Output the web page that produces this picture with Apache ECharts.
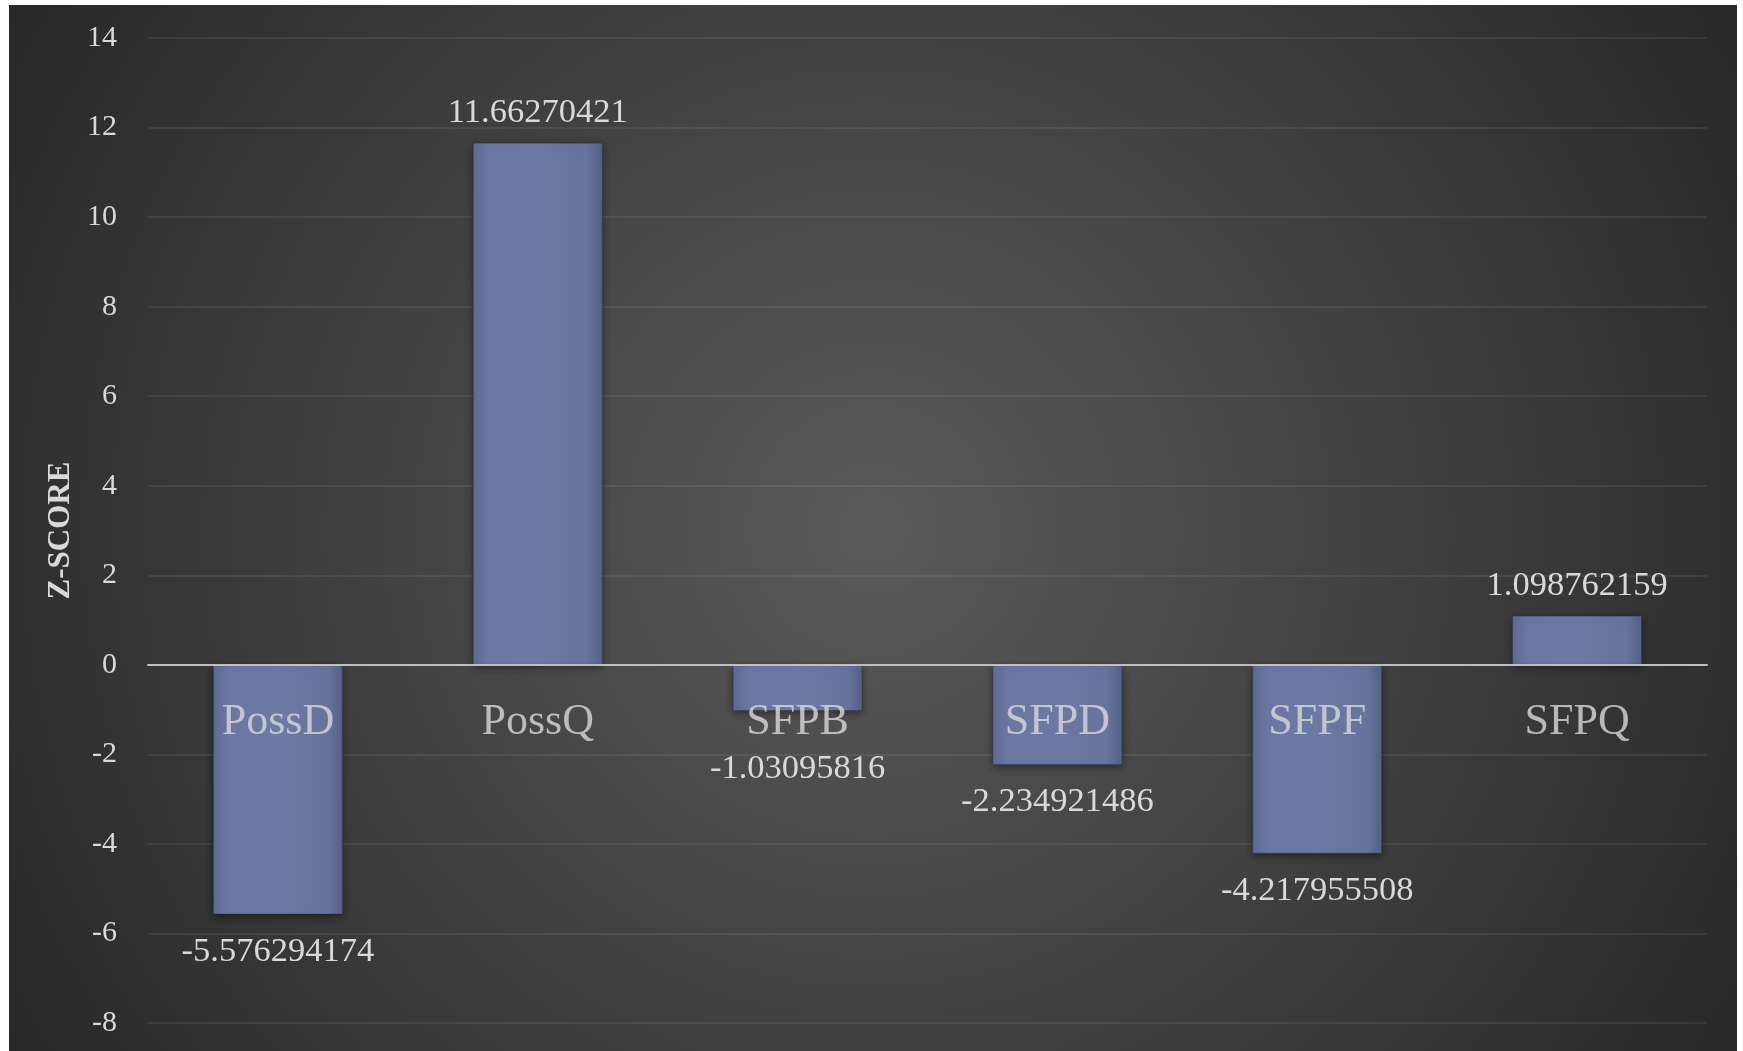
<!DOCTYPE html>
<html>
<head>
<meta charset="utf-8">
<title>Z-SCORE</title>
<script src="https://cdn.jsdelivr.net/npm/echarts@6/dist/echarts.min.js"></script>
<style>
  html, body { margin: 0; padding: 0; background: #ffffff; width: 1743px; height: 1051px; overflow: hidden; }
  #chart { position: absolute; left: 9px; top: 5px; width: 1728px; height: 1046px; }
</style>
</head>
<body>
<div id="chart"></div>
<script>
// Categories and z-scores
const categories = ['PossD', 'PossQ', 'SFPB', 'SFPD', 'SFPF', 'SFPQ'];
const zScores = [-5.576294174, 11.66270421, -1.03095816, -2.234921486, -4.217955508, 1.098762159];
// Value axis range
const yMin = -8;
const yMax = 14;
const yStep = 2;

const FONT = '"Liberation Serif", "DejaVu Serif", serif';
const TEXT = '#d9d9d9';

const chart = echarts.init(document.getElementById('chart'));

const barFill = new echarts.graphic.LinearGradient(0, 0, 1, 0, [
  { offset: 0, color: '#5f6b93' },
  { offset: 0.12, color: '#6a77a2' },
  { offset: 0.5, color: '#6c79a4' },
  { offset: 0.88, color: '#66739c' },
  { offset: 1, color: '#56618a' }
]);

chart.setOption({
  backgroundColor: new echarts.graphic.RadialGradient(0.5, 0.5, 1, [
    { offset: 0, color: '#5a5a5a' },
    { offset: 1, color: '#262626' }
  ]),
  animation: false,
  grid: { left: 139, right: 30, top: 33, bottom: 28, outerBoundsMode: 'none', containLabel: false },
  xAxis: {
    type: 'category',
    data: categories,
    axisLine: { onZero: true, lineStyle: { color: '#bfbfbf', width: 2 } },
    axisTick: { show: false },
    axisLabel: { show: false },
    z: 5
  },
  yAxis: {
    type: 'value',
    min: yMin,
    max: yMax,
    interval: yStep,
    name: 'Z-SCORE',
    nameLocation: 'middle',
    nameRotate: 90,
    nameGap: 67,
    nameTextStyle: { color: TEXT, fontFamily: FONT, fontSize: 31, fontWeight: 'bold' },
    axisLine: { show: false },
    axisTick: { show: false },
    axisLabel: { color: TEXT, fontFamily: FONT, fontSize: 30, margin: 31 },
    splitLine: { lineStyle: { color: 'rgba(255,255,255,0.09)', width: 1.5 } }
  },
  series: [{
    type: 'bar',
    barCategoryGap: '50%',
    data: zScores.map((v, i) => ({
      value: v,
      label: {
        position: v < 0 ? 'bottom' : 'top',
        distance: v < 0 ? (categories[i] === 'SFPB' ? 40 : 20) : 12
      }
    })),
    itemStyle: {
      color: barFill,
      borderColor: 'rgba(40,46,70,0.35)',
      borderWidth: 1,
      shadowColor: 'rgba(0,0,0,0.45)',
      shadowBlur: 8,
      shadowOffsetY: 3
    },
    label: {
      show: true,
      color: TEXT,
      fontFamily: FONT,
      fontSize: 34.5
    }
  }, {
    // category names sit just under the zero line
    type: 'scatter',
    symbolSize: 0,
    silent: true,
    z: 5,
    data: categories.map(c => [c, 0]),
    label: {
      show: true,
      position: 'bottom',
      distance: 36,
      formatter: p => p.data[0],
      color: TEXT,
      fontFamily: FONT,
      fontSize: 44
    }
  }]
});
</script>
</body>
</html>
